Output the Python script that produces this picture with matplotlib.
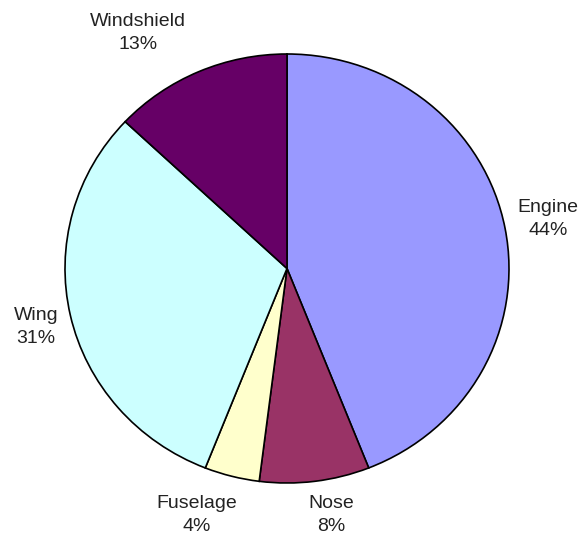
import numpy as np
import matplotlib.pyplot as plt

parts = ['Engine', 'Nose', 'Fuselage', 'Wing', 'Windshield']
shares = [44, 8, 4, 31, 13]
colors = ['#9999FF', '#993366', '#FFFFCC', '#CCFFFF', '#660066']

# label centres in pixels of the 581x542 image
label_px = [(548, 219), (331, 515), (197, 515), (36, 327), (138, 33)]

W, H = 581, 542
fig = plt.figure(figsize=(W / 100, H / 100), dpi=100)

# pie box (slightly wider than tall, as in the original)
left, right, top, bottom = 65, 509, 54, 483
ax = fig.add_axes([left / W, (H - bottom) / H, (right - left) / W, (bottom - top) / H])
ax.pie(shares, colors=colors, startangle=90, counterclock=False,
       wedgeprops=dict(edgecolor='black', linewidth=1.2))
ax.set_aspect('auto')
ax.set_xlim(-1, 1)
ax.set_ylim(-1, 1)
ax.axis('off')

for name, val, (px, py) in zip(parts, shares, label_px):
    fig.text(px / W, 1 - py / H, f'{name}\n{val}%', ha='center', va='center',
             fontsize=14, family='Liberation Sans', color='#222222',
             linespacing=1.45)

plt.savefig('out.png', dpi=100)
